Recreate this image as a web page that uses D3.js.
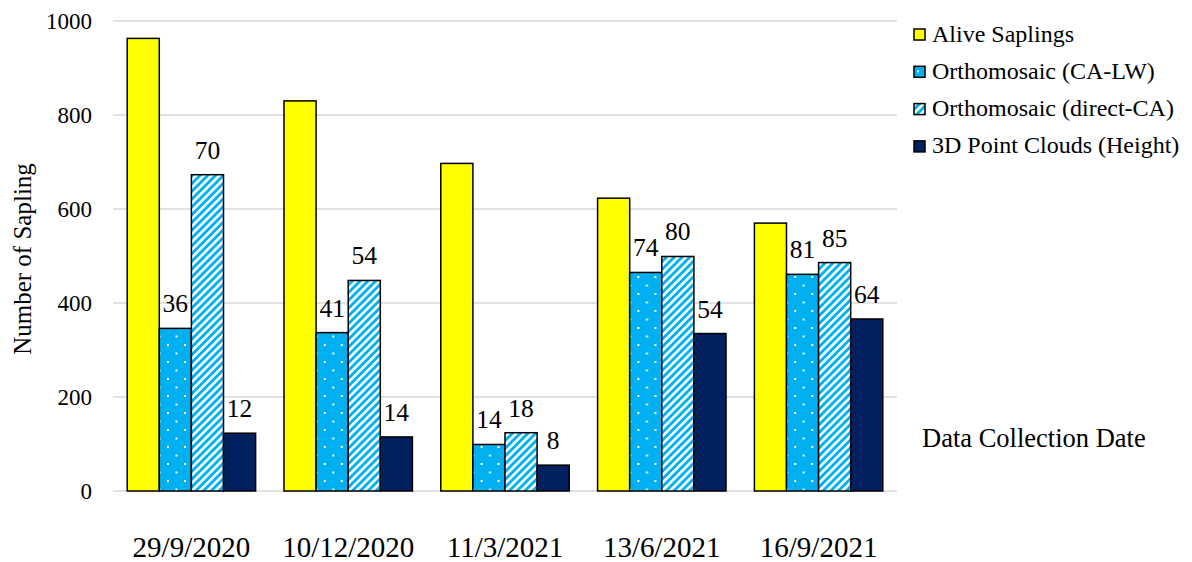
<!DOCTYPE html>
<html>
<head>
<meta charset="utf-8">
<script src="https://cdn.jsdelivr.net/npm/d3@7"></script>
<style>
  html, body { margin: 0; padding: 0; background: #fff; }
  svg { display: block; font-family: "Liberation Serif", "Times New Roman", serif; }
</style>
</head>
<body>
<svg id="chart" width="1192" height="562"></svg>
<script>
// Survey dates
const dates = ["29/9/2020", "10/12/2020", "11/3/2021", "13/6/2021", "16/9/2021"];
// Series names
const seriesNames = ["Alive Saplings", "Orthomosaic (CA-LW)", "Orthomosaic (direct-CA)", "3D Point Clouds (Height)"];
// Counts per series
const aliveSaplings = [963, 830, 697, 623, 570];
const orthoCALW = [346, 337, 99, 465, 461];
const orthoDirectCA = [673, 448, 124, 499, 486];
const pointCloudHeight = [123, 115, 55, 335, 366];
// Detection rates (%) shown above the detection bars
const labelsCALW = [36, 41, 14, 74, 81];
const labelsDirectCA = [70, 54, 18, 80, 85];
const labelsHeight = [12, 14, 8, 54, 64];
// Y-axis ticks
const yTicks = [0, 200, 400, 600, 800, 1000];

const seriesValues = [aliveSaplings, orthoCALW, orthoDirectCA, pointCloudHeight];
const seriesLabels = [null, labelsCALW, labelsDirectCA, labelsHeight];
const fills = ["#FFFF00", "url(#dots)", "url(#stripes)", "#002060"];
const serif = "Liberation Serif, Times New Roman, serif";

const svg = d3.select("#chart");

// Fill patterns
const defs = svg.append("defs");
const dots = defs.append("pattern").attr("id", "dots")
  .attr("patternUnits", "userSpaceOnUse").attr("width", 17).attr("height", 17);
dots.append("rect").attr("width", 17).attr("height", 17).attr("fill", "#00B0F0");
dots.append("rect").attr("x", 3).attr("y", 4).attr("width", 2).attr("height", 2).attr("fill", "#fff");
dots.append("rect").attr("x", 11.5).attr("y", 12.5).attr("width", 2).attr("height", 2).attr("fill", "#fff");

const stripes = defs.append("pattern").attr("id", "stripes")
  .attr("patternUnits", "userSpaceOnUse").attr("width", 5.5).attr("height", 5.5)
  .attr("patternTransform", "rotate(45)");
stripes.append("rect").attr("width", 5.5).attr("height", 5.5).attr("fill", "#00B0F0");
stripes.append("rect").attr("width", 2.6).attr("height", 5.5).attr("fill", "#fff");

const plot = { left: 113, right: 897, top: 21, bottom: 491 };

const x0 = d3.scaleBand().domain(dates).range([plot.left, plot.right]).padding(0);
const bw = x0.bandwidth();
const gap = bw * 0.181;
const x1 = d3.scaleBand().domain(d3.range(seriesNames.length)).range([gap / 2, bw - gap / 2]).padding(0);
const y = d3.scaleLinear().domain([0, 1000]).range([plot.bottom, plot.top]);

// Gridlines
svg.append("g").selectAll("line").data(yTicks).join("line")
  .attr("x1", plot.left).attr("x2", plot.right)
  .attr("y1", d => y(d)).attr("y2", d => y(d))
  .attr("stroke", "#d9d9d9").attr("stroke-width", 1.5);

// Y axis labels
const yAxis = d3.axisLeft(y).tickValues(yTicks).tickSize(0).tickPadding(0).tickFormat(d3.format("d"));
const yg = svg.append("g").attr("transform", `translate(${plot.left - 21},0)`).call(yAxis);
yg.attr("font-family", serif);
yg.select(".domain").remove();
yg.selectAll("text").attr("font-size", 23).attr("fill", "#000");

// Bars
const groups = svg.append("g").selectAll("g").data(dates).join("g")
  .attr("transform", d => `translate(${x0(d)},0)`);

groups.each(function (date, i) {
  const g = d3.select(this);
  seriesValues.forEach((vals, s) => {
    g.append("rect")
      .attr("x", x1(s)).attr("width", x1.bandwidth())
      .attr("y", y(vals[i])).attr("height", y(0) - y(vals[i]))
      .attr("fill", fills[s]).attr("stroke", "#000").attr("stroke-width", 1.5);
    if (seriesLabels[s]) {
      g.append("text")
        .attr("x", x1(s) + x1.bandwidth() / 2)
        .attr("y", y(vals[i]) - 16)
        .attr("text-anchor", "middle")
        .attr("font-size", 25.5)
        .text(seriesLabels[s][i]);
    }
  });
});

// X axis labels
const xAxis = d3.axisBottom(x0).tickSize(0).tickPadding(0);
const xg = svg.append("g").attr("transform", `translate(0,${plot.bottom + 45})`).call(xAxis);
xg.attr("font-family", serif);
xg.select(".domain").remove();
xg.selectAll("text").attr("font-size", 29).attr("fill", "#000").attr("dy", "0.71em");

// Axis titles
svg.append("text")
  .attr("transform", "translate(31,259) rotate(-90)")
  .attr("text-anchor", "middle").attr("font-size", 25)
  .text("Number of Sapling");

svg.append("text")
  .attr("x", 922).attr("y", 447).attr("font-size", 26.5)
  .text("Data Collection Date");

// Legend
const legend = svg.append("g").attr("transform", "translate(914,29)");
const items = legend.selectAll("g").data(seriesNames).join("g")
  .attr("transform", (d, i) => `translate(0,${i * 37.3})`);
items.append("rect").attr("width", 11).attr("height", 11)
  .attr("fill", (d, i) => fills[i]).attr("stroke", "#000").attr("stroke-width", 1.5);
items.append("text").attr("x", 18).attr("y", 12.5).attr("font-size", 24).text(d => d);
</script>
</body>
</html>
